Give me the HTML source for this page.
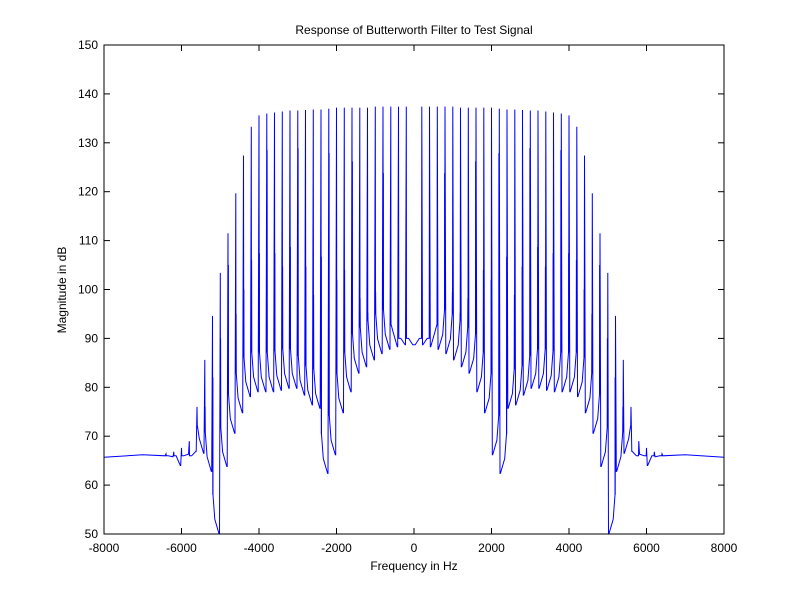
<!DOCTYPE html>
<html><head><meta charset="utf-8"><style>
body{margin:0;background:#fff}
svg text{font-family:"Liberation Sans",sans-serif;font-size:12px;fill:#000}
</style></head><body>
<svg id="c" width="800" height="600" xmlns="http://www.w3.org/2000/svg">
<rect width="800" height="600" fill="#fff"/>
<text x="414" y="34" text-anchor="middle">Response of Butterworth Filter to Test Signal</text>
<text x="414" y="570" text-anchor="middle">Frequency in Hz</text>
<text transform="translate(66,290) rotate(-90)" text-anchor="middle">Magnitude in dB</text>
<g id="ax"></g>
<polyline id="ln" fill="none" stroke="#0000ff" stroke-width="1"/>
<rect x="104" y="45" width="620" height="489" fill="none" stroke="#000"/>
</svg>
<script>
const xTicks=[-8000,-6000,-4000,-2000,0,2000,4000,6000,8000];
const yTicks=[50,60,70,80,90,100,110,120,130,140,150];
const harmonicHz=[200,400,600,800,1000,1200,1400,1600,1800,2000,2200,2400,2600,2800,3000,3200,3400,3600,3800,4000,4200,4400,4600,4800,5000,5200,5400,5600,5800,6000,6200,6400];
const peakDb=[137.4,137.4,137.4,137.4,137.4,137.2,137.2,137.2,137.2,137.2,137,136.8,136.8,136.7,136.6,136.6,136.4,136.2,136,135.6,133.3,127.4,119.7,111.5,103.4,94.6,85.6,76,69,67.6,66.8,66.4];
const companionDb=[90,90,92.7,123.8,99.5,95.3,98.2,126.2,104,102,127.9,106.7,98.9,104.7,128.9,108.7,104.7,107.4,128.5,107.4,106,100,95,105,90,82,76,72,66,66,66,66];
const troughDb=[88.7,88.3,87.8,86.9,85.6,84.2,82.9,79.1,74.8,66.2,62.4,75.7,76.4,78.4,79.8,79.8,79.4,79.1,79.1,79.1,78.1,74.8,70.6,63.8,50,62.8,66.5,66.9,66.3,64,65.8,66];
const centerDb=88.7, edgeDb=[66.2,65.7];
const X=f=>104+(f+8000)/16000*620;
const Y=d=>534-(d-50)/100*489;
const ax=document.getElementById('ax');
const NS='http://www.w3.org/2000/svg';
function mk(t,a){const e=document.createElementNS(NS,t);for(const k in a)e.setAttribute(k,a[k]);ax.appendChild(e);return e;}
xTicks.forEach(v=>{const x=X(v);
 const t=mk('line',{x1:x,x2:x,y1:534,y2:528,stroke:'#000'});
 
 
 const t2=mk('line',{x1:x,x2:x,y1:45,y2:51,stroke:'#000'});
 
 
 const l=mk('text',{x:x,y:552,'text-anchor':'middle'});l.textContent=v;
 
 });
yTicks.forEach(v=>{const y=Y(v);
 const t=mk('line',{x1:104,x2:110,y1:y,y2:y,stroke:'#000'});
 
 
 const t2=mk('line',{x1:718,x2:724,y1:y,y2:y,stroke:'#000'});
 
 
 const l=mk('text',{x:98,y:y+4,'text-anchor':'end'});l.textContent=v;
 
 });
function side(s){const p=[];let prev=centerDb;
 harmonicHz.forEach((f,i)=>{
  const c=companionDb[i], rise=Math.min(c,prev+8);
  p.push([s*(f-170),prev]);p.push([s*(f-60),Math.min(c,prev+3)]);
  p.push([s*(f-14),rise]);p.push([s*(f-10),c]);p.push([s*(f-7),rise]);
  p.push([s*f,peakDb[i]]);p.push([s*(f+20),troughDb[i]]);prev=troughDb[i];});
 p.push([s*7000,edgeDb[0]]);p.push([s*8000,edgeDb[1]]);return p;}
const neg=side(-1).reverse(),pos=side(1);
const pts=neg.concat([[0,centerDb]],pos);
document.getElementById('ln').setAttribute('points',pts.map(q=>X(q[0]).toFixed(1)+','+Y(Math.max(50,q[1])).toFixed(1)).join(' '));
</script>
</body></html>
